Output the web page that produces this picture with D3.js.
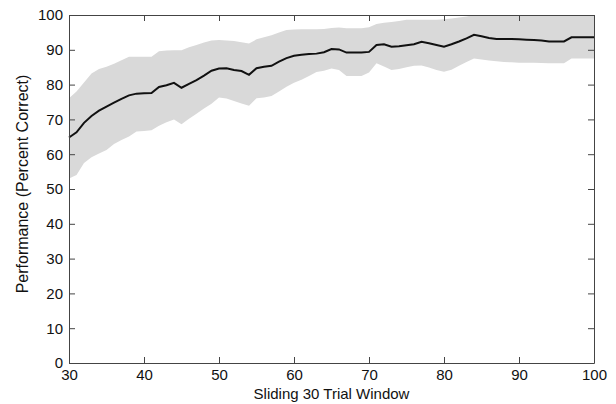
<!DOCTYPE html>
<html>
<head>
<meta charset="utf-8">
<script src="https://cdn.jsdelivr.net/npm/d3@7/dist/d3.min.js"></script>
<style>
  body { margin: 0; background: #fff; }
  svg { display: block; font-family: "Liberation Sans", Arial, sans-serif; }
  .axis path, .axis line { stroke: #444; }
  .axis text { fill: #111; font-size: 15px; }
</style>
</head>
<body>
<script>
'use strict';

// sliding window position (trials)
var trials = d3.range(30, 101);

// mean performance (percent correct)
var meanPerf = [
  64.8, 66.3, 69.0, 71.0, 72.5, 73.7, 74.8, 75.9, 76.9, 77.4,
  77.5, 77.6, 79.3, 79.8, 80.5, 79.1, 80.2, 81.3, 82.6, 84.0,
  84.6, 84.7, 84.2, 83.9, 82.8, 84.7, 85.1, 85.4, 86.6, 87.6,
  88.3, 88.6, 88.8, 88.9, 89.3, 90.2, 90.1, 89.2, 89.2, 89.2,
  89.4, 91.4, 91.6, 90.9, 91.0, 91.3, 91.6, 92.3, 91.9, 91.4,
  90.9, 91.6, 92.4, 93.3, 94.3, 93.9, 93.4, 93.1, 93.1, 93.1,
  93.0, 92.9, 92.8, 92.7, 92.4, 92.4, 92.4, 93.6, 93.6, 93.6,
  93.6
];

// upper edge of shaded band
var upperPerf = [
  76.1, 78.0, 80.6, 83.2, 84.5, 85.1, 86.0, 87.0, 88.0, 88.0,
  88.0, 88.0, 89.6, 89.8, 89.9, 89.9, 90.7, 91.4, 92.1, 92.7,
  92.8, 92.7, 92.5, 92.2, 91.8, 93.0, 93.6, 94.2, 95.0, 95.7,
  95.8, 95.9, 95.9, 95.9, 96.0, 96.3, 96.4, 96.2, 96.2, 96.2,
  96.5, 97.4, 97.8, 98.0, 98.3, 98.6, 98.6, 98.6, 98.6, 98.6,
  98.8, 99.0, 99.3, 99.6, 100, 100, 100, 100, 100, 100,
  100, 100, 100, 100, 100, 100, 100, 100, 100, 100,
  100
];

// lower edge of shaded band
var lowerPerf = [
  53.0, 54.0, 57.5, 59.1, 60.2, 61.2, 62.9, 64.1, 65.1, 66.5,
  66.7, 66.9, 68.2, 69.2, 70.0, 68.6, 70.2, 71.6, 73.1, 74.5,
  76.3, 76.0, 75.3, 74.6, 73.9, 76.1, 76.3, 76.7, 78.0, 79.4,
  80.5, 81.4, 82.5, 83.6, 84.0, 84.6, 84.2, 82.5, 82.5, 82.5,
  83.5, 86.1, 85.2, 84.2, 84.5, 85.0, 85.4, 85.5, 84.9, 84.2,
  83.7, 84.3, 85.4, 86.5, 87.5, 87.2, 86.9, 86.7, 86.5, 86.4,
  86.3, 86.3, 86.3, 86.2, 86.1, 86.1, 86.1, 87.5, 87.5, 87.5,
  87.5
];

var xTicks = [30, 40, 50, 60, 70, 80, 90, 100];
var yTicks = [0, 10, 20, 30, 40, 50, 60, 70, 80, 90, 100];

var width = 616;
var height = 404;
var margin = { top: 15, right: 22, bottom: 41, left: 69 };
var w = width - margin.left - margin.right;
var h = height - margin.top - margin.bottom;

var x = d3.scaleLinear().domain([30, 100]).range([0, w]);
var y = d3.scaleLinear().domain([0, 100]).range([h, 0]);

var svg = d3.select('body').append('svg')
  .attr('width', width)
  .attr('height', height);

var g = svg.append('g')
  .attr('transform', 'translate(' + margin.left + ',' + margin.top + ')');

g.append('clipPath').attr('id', 'clip')
  .append('rect').attr('width', w).attr('height', h);

var band = d3.area()
  .x(function(d, i) { return x(trials[i]); })
  .y0(function(d, i) { return y(lowerPerf[i]); })
  .y1(function(d, i) { return y(upperPerf[i]); });

var line = d3.line()
  .x(function(d, i) { return x(trials[i]); })
  .y(function(d) { return y(d); });

g.append('path')
  .datum(meanPerf)
  .attr('clip-path', 'url(#clip)')
  .attr('d', band)
  .style('fill', '#d9d9d9');

g.append('path')
  .datum(meanPerf)
  .attr('d', line)
  .style('fill', 'none')
  .style('stroke', '#111')
  .style('stroke-width', 2);

// MATLAB style box with inward ticks
g.append('g').attr('class', 'axis')
  .attr('transform', 'translate(0,' + h + ')')
  .call(d3.axisBottom(x).tickValues(xTicks).tickSizeInner(-6).tickSizeOuter(0).tickPadding(6));

g.append('g').attr('class', 'axis')
  .call(d3.axisTop(x).tickValues(xTicks).tickSizeInner(-6).tickSizeOuter(0).tickFormat(''));

g.append('g').attr('class', 'axis')
  .call(d3.axisLeft(y).tickValues(yTicks).tickSizeInner(-6).tickSizeOuter(0).tickPadding(6));

g.append('g').attr('class', 'axis')
  .attr('transform', 'translate(' + w + ',0)')
  .call(d3.axisRight(y).tickValues(yTicks).tickSizeInner(-6).tickSizeOuter(0).tickFormat(''));

g.selectAll('.axis .domain').style('stroke-width', 1);

svg.append('text')
  .attr('x', margin.left + w / 2)
  .attr('y', 399)
  .attr('text-anchor', 'middle')
  .style('font-size', '15px')
  .style('fill', '#111')
  .text('Sliding 30 Trial Window');

svg.append('text')
  .attr('transform', 'translate(28,184) rotate(-90)')
  .attr('text-anchor', 'middle')
  .style('font-size', '16px')
  .style('fill', '#111')
  .text('Performance (Percent Correct)');
</script>
</body>
</html>
